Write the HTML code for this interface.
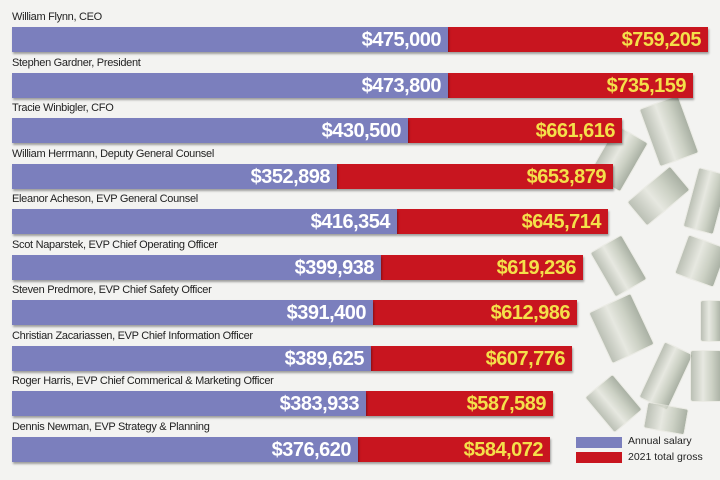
<!DOCTYPE html>
<html><head><meta charset="utf-8"><style>
body{margin:0;width:720px;height:480px;background:#f3f3f1;position:relative;overflow:hidden;font-family:"Liberation Sans",Arial,sans-serif}
.l{position:absolute;left:12px;font-size:11px;color:#222;letter-spacing:-0.3px}
.b{position:absolute;height:25px;box-shadow:1px 2px 2px rgba(0,0,0,0.35)}
.bl{background:#7b7fbd;left:12px}
.rd{background:#c8151f}
.v{position:absolute;right:7px;top:1px;font-size:20px;font-weight:bold;letter-spacing:-0.5px;line-height:24px}
.bl .v{color:#fff}
.rd .v{color:#f4e04a}
.m{position:absolute;background:linear-gradient(90deg,#a4ab9c,#e2e4da 40%,#bcc3b2 70%,#8b9584);border:1px solid #e8e8e0;opacity:.7;border-radius:3px}
</style></head><body>
<div class="m" style="left:648px;top:100px;width:40px;height:60px;transform:rotate(-20deg)"></div>
<div class="m" style="left:600px;top:130px;width:35px;height:55px;transform:rotate(30deg)"></div>
<div class="m" style="left:630px;top:180px;width:55px;height:30px;transform:rotate(-40deg)"></div>
<div class="m" style="left:690px;top:170px;width:30px;height:60px;transform:rotate(15deg)"></div>
<div class="m" style="left:600px;top:240px;width:35px;height:50px;transform:rotate(-30deg)"></div>
<div class="m" style="left:680px;top:240px;width:40px;height:40px;transform:rotate(20deg)"></div>
<div class="m" style="left:598px;top:300px;width:45px;height:55px;transform:rotate(-25deg)"></div>
<div class="m" style="left:700px;top:300px;width:20px;height:40px"></div>
<div class="m" style="left:650px;top:345px;width:30px;height:60px;transform:rotate(25deg)"></div>
<div class="m" style="left:690px;top:350px;width:30px;height:50px"></div>
<div class="m" style="left:595px;top:380px;width:35px;height:45px;transform:rotate(-40deg)"></div>
<div class="m" style="left:645px;top:405px;width:40px;height:25px;transform:rotate(10deg)"></div>

<div class="l" style="top:11px">William Flynn, CEO</div>
<div class="b rd" style="top:27px;left:448px;width:260px"><span class="v">$759,205</span></div>
<div class="b bl" style="top:27px;width:436px"><span class="v">$475,000</span></div>

<div class="l" style="top:57px">Stephen Gardner, President</div>
<div class="b rd" style="top:73px;left:448px;width:245px"><span class="v">$735,159</span></div>
<div class="b bl" style="top:73px;width:436px"><span class="v">$473,800</span></div>

<div class="l" style="top:102px">Tracie Winbigler, CFO</div>
<div class="b rd" style="top:118px;left:408px;width:214px"><span class="v">$661,616</span></div>
<div class="b bl" style="top:118px;width:396px"><span class="v">$430,500</span></div>

<div class="l" style="top:148px">William Herrmann, Deputy General Counsel</div>
<div class="b rd" style="top:164px;left:337px;width:276px"><span class="v">$653,879</span></div>
<div class="b bl" style="top:164px;width:325px"><span class="v">$352,898</span></div>

<div class="l" style="top:193px">Eleanor Acheson, EVP General Counsel</div>
<div class="b rd" style="top:209px;left:397px;width:211px"><span class="v">$645,714</span></div>
<div class="b bl" style="top:209px;width:385px"><span class="v">$416,354</span></div>

<div class="l" style="top:239px">Scot Naparstek, EVP Chief Operating Officer</div>
<div class="b rd" style="top:255px;left:381px;width:202px"><span class="v">$619,236</span></div>
<div class="b bl" style="top:255px;width:369px"><span class="v">$399,938</span></div>

<div class="l" style="top:284px">Steven Predmore, EVP Chief Safety Officer</div>
<div class="b rd" style="top:300px;left:373px;width:204px"><span class="v">$612,986</span></div>
<div class="b bl" style="top:300px;width:361px"><span class="v">$391,400</span></div>

<div class="l" style="top:330px">Christian Zacariassen, EVP Chief Information Officer</div>
<div class="b rd" style="top:346px;left:371px;width:201px"><span class="v">$607,776</span></div>
<div class="b bl" style="top:346px;width:359px"><span class="v">$389,625</span></div>

<div class="l" style="top:375px">Roger Harris, EVP Chief Commerical &amp; Marketing Officer</div>
<div class="b rd" style="top:391px;left:366px;width:187px"><span class="v">$587,589</span></div>
<div class="b bl" style="top:391px;width:354px"><span class="v">$383,933</span></div>

<div class="l" style="top:421px">Dennis Newman, EVP Strategy &amp; Planning</div>
<div class="b rd" style="top:437px;left:358px;width:192px"><span class="v">$584,072</span></div>
<div class="b bl" style="top:437px;width:346px"><span class="v">$376,620</span></div>

<div style="position:absolute;left:576px;top:437px;width:46px;height:11px;background:#7b7fbd"></div>
<div style="position:absolute;left:576px;top:452px;width:46px;height:11px;background:#c8151f"></div>
<div style="position:absolute;left:628px;top:435px;font-size:10.5px;color:#222">Annual salary</div>
<div style="position:absolute;left:628px;top:451px;font-size:10.5px;color:#222">2021 total gross</div>
</body></html>
